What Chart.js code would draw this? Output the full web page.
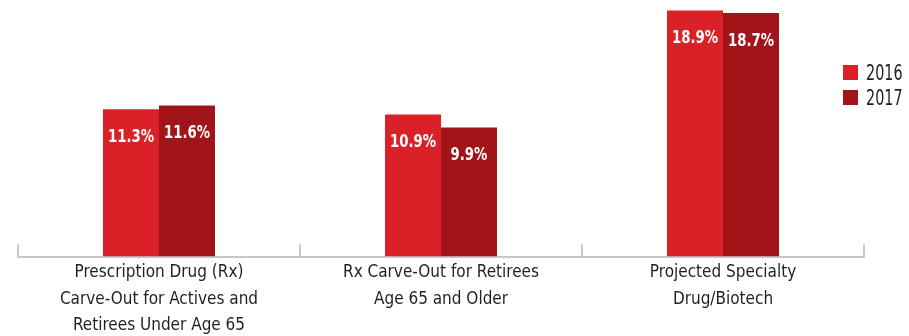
<!DOCTYPE html>
<html>
<head>
<meta charset="utf-8">
<script src="https://cdn.jsdelivr.net/npm/chart.js@4.4.1/dist/chart.umd.min.js"></script>
<style>
  html, body { margin: 0; padding: 0; background: #fff; }
  #wrap { position: relative; width: 909px; height: 336px; }
  #legend {
    position: absolute; left: 843px; top: 60px;
    font-family: 'DejaVu Sans Condensed', 'Liberation Sans Narrow', sans-serif;
    font-size: 21px; color: #231f20;
  }
  .item { display: flex; align-items: center; height: 25px; }
  .box { width: 15px; height: 15px; margin-right: 8px; flex: none; }
  .txt { display: inline-block; transform: scaleX(0.76); transform-origin: left center; }
</style>
</head>
<body>
<div id="wrap">
  <canvas id="chart" width="909" height="336"></canvas>
  <div id="legend"></div>
</div>
<script>
// --- dados ---
const categories = [
  ['Prescription Drug (Rx)', 'Carve-Out for Actives and', 'Retirees Under Age 65'],
  ['Rx Carve-Out for Retirees', 'Age 65 and Older'],
  ['Projected Specialty', 'Drug/Biotech']
];
const seriesNames = ['2016', '2017'];
const values2016 = [11.3, 10.9, 18.9];
const values2017 = [11.6, 9.9, 18.7];
const colors = ['#da2128', '#a1141a'];

const FONT = "'DejaVu Sans Condensed', 'Liberation Sans Narrow', sans-serif";

// rótulos brancos dentro das barras
const barLabels = {
  id: 'barLabels',
  afterDatasetsDraw(chart) {
    const ctx = chart.ctx;
    chart.data.datasets.forEach((ds, i) => {
      chart.getDatasetMeta(i).data.forEach((bar, j) => {
        ctx.save();
        ctx.font = 'bold 18px ' + FONT;
        ctx.fillStyle = '#fff';
        ctx.textAlign = 'center';
        ctx.textBaseline = 'middle';
        ctx.translate(bar.x, bar.y + 28);
        ctx.scale(0.82, 1);
        ctx.fillText(ds.data[j].toFixed(1) + '%', 0, 0);
        ctx.restore();
      });
    });
  }
};

// pequenas marcas verticais entre as categorias
const axisTicks = {
  id: 'axisTicks',
  afterDraw(chart) {
    const { ctx, scales: { x, y } } = chart;
    const base = y.getPixelForValue(0);
    ctx.save();
    ctx.strokeStyle = '#c8c8c8';
    ctx.lineWidth = 2;
    ctx.beginPath();
    for (let i = 0; i <= categories.length; i++) {
      const px = x.getPixelForValue(i - 0.5);
      ctx.moveTo(px, base);
      ctx.lineTo(px, base - 12);
    }
    ctx.stroke();
    ctx.restore();
  }
};

new Chart(document.getElementById('chart'), {
  type: 'bar',
  data: {
    labels: categories,
    datasets: [
      { label: seriesNames[0], data: values2016, backgroundColor: colors[0] },
      { label: seriesNames[1], data: values2017, backgroundColor: colors[1] }
    ]
  },
  options: {
    responsive: false,
    animation: false,
    layout: { padding: { left: 18, right: 45, top: 0, bottom: -6 } },
    datasets: { bar: { categoryPercentage: 0.397, barPercentage: 1 } },
    plugins: { legend: { display: false }, tooltip: { enabled: false } },
    scales: {
      y: { display: false, min: 0, max: 19.7 },
      x: {
        grid: { display: false, drawTicks: false },
        border: { display: true, color: '#c8c8c8', width: 2 },
        ticks: {
          color: '#231f20',
          font: { family: FONT, size: 17, lineHeight: '26.5px' },
          padding: 3,
          maxRotation: 0,
          autoSkip: false
        }
      }
    }
  },
  plugins: [barLabels, axisTicks]
});

// legenda
const legend = document.getElementById('legend');
seriesNames.forEach((name, i) => {
  legend.innerHTML += `<div class="item"><span class="box" style="background:${colors[i]}"></span><span class="txt">${name}</span></div>`;
});
</script>
</body>
</html>
